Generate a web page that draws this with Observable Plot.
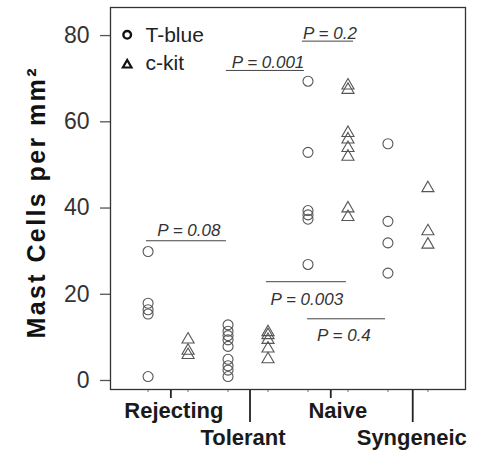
<!DOCTYPE html>
<html><head><meta charset="utf-8">
<script src="https://cdn.jsdelivr.net/npm/d3@7"></script>
<script src="https://cdn.jsdelivr.net/npm/@observablehq/plot@0.6"></script>
<style>body{margin:0;background:#fff;} svg{display:block}</style>
</head><body><div id="chart"></div>
<script>
// ---- data ----
const groups = ["Rejecting", "Tolerant", "Naive", "Syngeneic"];
const stains = ["T-blue", "c-kit"];
const rejectingTblue = [32, 20, 18.5, 17.5, 3];
const rejectingCkit = [11.6, 9, 8];
const tolerantTblue = [15, 13.5, 12.5, 11.5, 10, 7, 5.5, 4.5, 3];
const tolerantCkit = [13.3, 12.6, 11.5, 9.5, 7];
const naiveTblue = [71.5, 55, 41.5, 40.5, 39.5, 29];
const naiveCkit = [70.5, 69.5, 59.5, 58, 56, 54, 42, 40];
const syngeneicTblue = [57, 39, 34, 27];
const syngeneicCkit = [46.7, 36.7, 33.6];
const yTicks = [0, 20, 40, 60, 80];
const groupTicks = [0.57, 2.55, 4.57, 6.62];
const pLabels = ["P = 0.08", "P = 0.001", "P = 0.2", "P = 0.003", "P = 0.4"];
const pX1 = [-0.04, 1.96, 3.86, 2.96, 3.99];
const pX2 = [1.96, 3.91, 5.14, 4.96, 5.94];
const pLineY = [34.5, 74.0, 80.8, 25.0, 16.4];
const pTextX = [1.02, 3.0, 4.55, 3.97, 4.9];
const pTextY = [36.8, 75.8, 82.6, 20.9, 12.5];

const seriesValues = [
  [rejectingTblue, rejectingCkit],
  [tolerantTblue, tolerantCkit],
  [naiveTblue, naiveCkit],
  [syngeneicTblue, syngeneicCkit]
];
const rows = [];
groups.forEach((g, gi) => stains.forEach((s, si) => {
  seriesValues[gi][si].forEach(v => rows.push({group: g, stain: s, idx: gi * 2 + si, value: v}));
}));
const pRows = pLabels.map((label, i) => ({label, x1: pX1[i], x2: pX2[i], y: pLineY[i], tx: pTextX[i], ty: pTextY[i]}));

// ---- styles ----
const labelRow = [0, 1, 0, 1];
const labelDx = [3, -7, 7, -1];
const FONT = "'Liberation Sans', Arial, Helvetica, sans-serif";

const chart = Plot.plot({
  width: 480, height: 453,
  marginLeft: 110, marginRight: 15, marginTop: 7, marginBottom: 64,
  x: {domain: [-0.94, 7.94], axis: null},
  y: {domain: [0, 88.6], axis: null},
  style: {fontFamily: FONT, background: "white"},
  marks: [
    Plot.axisY(yTicks, {tickSize: 10, tickPadding: 11, dy: -9, fontSize: 23, fill: "#333", stroke: "#555", strokeWidth: 1.3, label: null}),
    Plot.axisX(d3.range(8), {tickSize: 3, tickFormat: () => "", stroke: "#777", label: null}),
    Plot.axisX([groupTicks[0], groupTicks[2]], {tickSize: 9, tickFormat: () => "", stroke: "#222", strokeWidth: 1.8, label: null}),
    Plot.axisX([groupTicks[1], groupTicks[3]], {tickSize: 33, tickFormat: () => "", stroke: "#222", strokeWidth: 1.8, label: null}),
    ...groups.map((g, i) => Plot.text([g], {
      x: () => groupTicks[i], frameAnchor: "bottom", dx: labelDx[i], dy: labelRow[i] ? 40 : 12.7,
      lineAnchor: "top", textAnchor: "middle", fontSize: 22, fontWeight: "bold", fill: "#1a1a1a"
    })),
    Plot.frame({stroke: "#333", strokeWidth: 1.3}),
    Plot.ruleY(pRows, {x1: "x1", x2: "x2", y: "y", stroke: "#444", strokeWidth: 1}),
    Plot.text(pRows, {x: "tx", y: "ty", text: "label", fontStyle: "italic", fontSize: 17, fill: "#333", lineAnchor: "middle"}),
    Plot.dot(rows.filter(d => d.stain === "T-blue"), {x: "idx", y: "value", r: 5, stroke: "#555", strokeWidth: 1.1, fill: "none"}),
    Plot.dot(rows.filter(d => d.stain === "c-kit"), {x: "idx", y: "value", symbol: "triangle", r: 4.5, stroke: "#555", strokeWidth: 1.1, fill: "none"}),
    // legend
    Plot.dot([stains[0]], {frameAnchor: "top-left", dx: 16.7, dy: 27.3, r: 3.8, stroke: "#111", strokeWidth: 2.4, fill: "none"}),
    Plot.dot([stains[1]], {frameAnchor: "top-left", dx: 16.7, dy: 57.5, symbol: "triangle", r: 3.2, stroke: "#111", strokeWidth: 2.2, fill: "none"}),
    Plot.text([stains[0]], {frameAnchor: "top-left", dx: 35, dy: 27.3, textAnchor: "start", lineAnchor: "middle", fontSize: 21, fill: "#222"}),
    Plot.text([stains[1]], {frameAnchor: "top-left", dx: 35, dy: 56, textAnchor: "start", lineAnchor: "middle", fontSize: 21, fill: "#222"}),
    // y title
    Plot.text(["Mast Cells per mm²"], {frameAnchor: "left", rotate: -90, dx: -73.5, dy: 5, fontSize: 25, fontWeight: "bold", fill: "#111", textAnchor: "middle", lineAnchor: "middle"})
  ]
});
document.getElementById("chart").appendChild(chart);
chart.querySelectorAll("text").forEach(t => {
  if (t.textContent.includes("Mast")) { t.setAttribute("textLength", 270); t.setAttribute("lengthAdjust", "spacing"); }
});
</script>
</body></html>
